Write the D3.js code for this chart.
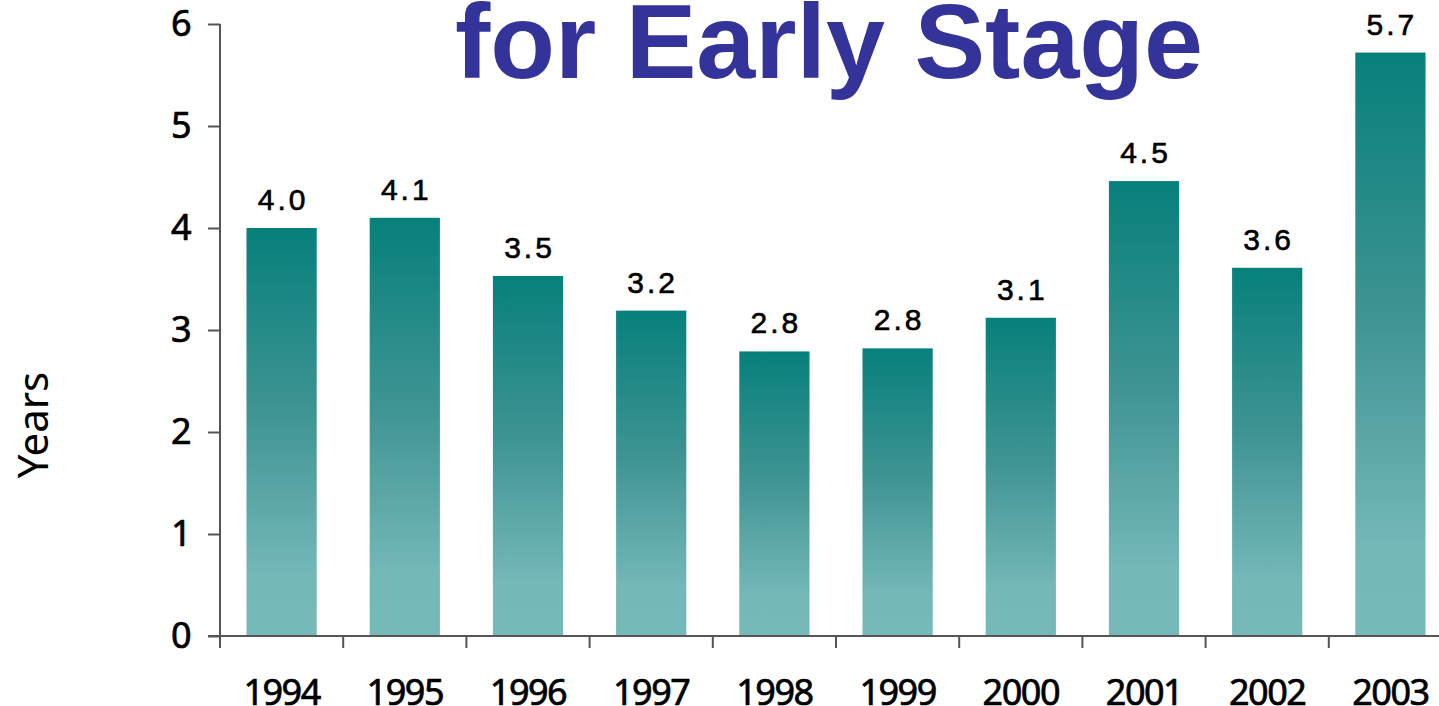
<!DOCTYPE html>
<html>
<head>
<meta charset="utf-8">
<script src="https://cdn.jsdelivr.net/npm/d3@7"></script>
<style>
  html, body { margin: 0; padding: 0; background: #ffffff; overflow: hidden; }
  svg { display: block; }
</style>
</head>
<body>
<svg id="chart" width="1439" height="706"></svg>
<script>
const categories = ["1994", "1995", "1996", "1997", "1998", "1999", "2000", "2001", "2002", "2003"];
const years = [4.0, 4.1, 3.53, 3.19, 2.79, 2.82, 3.12, 4.46, 3.61, 5.72];
const valueLabels = ["4.0", "4.1", "3.5", "3.2", "2.8", "2.8", "3.1", "4.5", "3.6", "5.7"];
const yTicks = [0, 1, 2, 3, 4, 5, 6];
const titleText = "for Early Stage";
const yTitle = "Years";

(function () {
const svg = d3.select("#chart");
const plotLeft = 220, plotRight = 1452, plotTop = 24, plotBottom = 636;

const x = d3.scaleBand().domain(categories).range([plotLeft, plotRight])
  .paddingInner(0.43).paddingOuter(0.215);
const y = d3.scaleLinear().domain([0, 6]).range([plotBottom, plotTop]);

const defs = svg.append("defs");
const grad = defs.append("linearGradient").attr("id", "barGrad")
  .attr("x1", 0).attr("y1", 0).attr("x2", 0).attr("y2", 1);
grad.append("stop").attr("offset", "0%").attr("stop-color", "#07807b");
grad.append("stop").attr("offset", "45%").attr("stop-color", "#3e9492");
grad.append("stop").attr("offset", "85%").attr("stop-color", "#74b8b8");
grad.append("stop").attr("offset", "100%").attr("stop-color", "#75b9b9");

// Title
svg.append("text")
  .attr("x", 829).attr("y", 78)
  .attr("text-anchor", "middle")
  .attr("font-family", "'Liberation Sans', Arial, sans-serif")
  .attr("font-weight", "bold")
  .attr("font-size", 106)
  .attr("fill", "#333399")
  .text(titleText);

// Bars
svg.append("g").selectAll("rect").data(categories).join("rect")
  .attr("x", d => x(d))
  .attr("width", x.bandwidth())
  .attr("y", (d, i) => y(years[i]))
  .attr("height", (d, i) => y(0) - y(years[i]))
  .attr("fill", "url(#barGrad)");

// Value labels
svg.append("g").selectAll("text").data(categories).join("text")
  .attr("x", d => x(d) + x.bandwidth() / 2 + 1.5)
  .attr("y", (d, i) => y(years[i]) - 18)
  .attr("text-anchor", "middle")
  .attr("font-family", "'Liberation Sans', Arial, sans-serif")
  .attr("font-size", 30)
  .attr("letter-spacing", "3px")
  .attr("fill", "#000")
  .attr("stroke", "#000").attr("stroke-width", 0.6)
  .text((d, i) => valueLabels[i]);

// Y axis
const yAxis = d3.axisLeft(y).tickValues(yTicks).tickFormat(d3.format("d"))
  .tickSize(12).tickPadding(18);
const gy = svg.append("g").attr("transform", `translate(${plotLeft},0)`).call(yAxis);
gy.select(".domain").attr("stroke", "#555").attr("stroke-width", 2).attr("d", `M0,${plotTop}V${plotBottom}`);
gy.selectAll(".tick line").attr("stroke", "#555").attr("stroke-width", 2);
gy.selectAll(".tick text")
  .attr("font-family", "'Noto Sans', sans-serif")
  .attr("font-size", 36)
  .attr("letter-spacing", "-1.5px")
  .attr("fill", "#000")
  .attr("stroke", "#000").attr("stroke-width", 0.7);

// X axis
const xAxis = d3.axisBottom(x).tickSize(0).tickPadding(0);
const gx = svg.append("g").attr("transform", `translate(0,${plotBottom})`).call(xAxis);
gx.select(".domain").attr("stroke", "#555").attr("stroke-width", 2).attr("d", `M${plotLeft - 12},0H1439`);
gx.selectAll(".tick text")
  .attr("font-family", "'Noto Sans', sans-serif")
  .attr("font-size", 36)
  .attr("letter-spacing", "-1.5px")
  .attr("fill", "#000")
  .attr("stroke", "#000").attr("stroke-width", 0.7)
  .attr("dy", null)
  .attr("y", 69);

// X separators at band boundaries
const step = x.step();
svg.append("g").selectAll("line").data(categories).join("line")
  .attr("x1", d => x(d) - step * x.paddingInner() / 2)
  .attr("x2", d => x(d) - step * x.paddingInner() / 2)
  .attr("y1", plotBottom).attr("y2", plotBottom + 12)
  .attr("stroke", "#555").attr("stroke-width", 2);

// Y title
svg.append("text")
  .attr("transform", "translate(48,425) rotate(-90)")
  .attr("text-anchor", "middle")
  .attr("font-family", "'Noto Sans', sans-serif")
  .attr("font-size", 42)
  .attr("fill", "#000")
  .text(yTitle);
})();
</script>
</body>
</html>
